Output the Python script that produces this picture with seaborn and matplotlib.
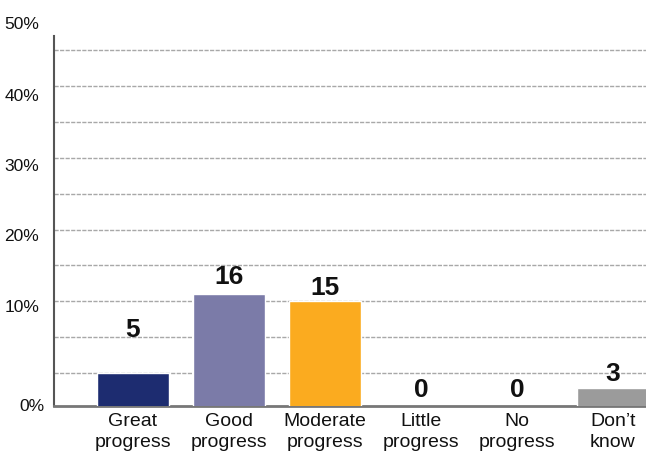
import matplotlib
matplotlib.use("Agg")
import matplotlib.pyplot as plt
import matplotlib.transforms as mtransforms
import seaborn as sns
import pandas as pd

# ---- data ----
categories = ["Great\nprogress", "Good\nprogress", "Moderate\nprogress",
              "Little\nprogress", "No\nprogress", "Don\u2019t\nknow"]
counts = [5, 16, 15, 0, 0, 3]
colors = ["#1d2c70", "#7b7ba8", "#fbab1f", "#999999", "#999999", "#9b9b9b"]
ytick_labels = ["0%", "10%", "20%", "30%", "40%", "50%"]

# ---- layout (not data) ----
ytick_label_pos = [0.3, 14.2, 24.0, 33.8, 43.5, 53.5]
ytick_label_x = [45, 39, 39, 39, 39, 39]          # right edge in pixels
value_label_offset_px = [43, 17, 13, 19, 19, 14]  # label centre above bar top

sns.set_theme(style="white")
plt.rcParams["font.family"] = ["Liberation Sans", "DejaVu Sans"]

W, H = 646, 455
fig = plt.figure(figsize=(W / 100, H / 100), dpi=100)
left_px, right_px, bottom_px, top_px = 53.5, 646, 405.7, 35.7
ax = fig.add_axes([left_px / W, (H - bottom_px) / H,
                   (right_px - left_px) / W, (bottom_px - top_px) / H])

df = pd.DataFrame({"category": categories, "count": counts})
sns.barplot(data=df, x="category", y="count", hue="category",
            palette=colors, legend=False, width=0.75, saturation=1,
            ax=ax, zorder=3)

ax.set_xlim(-0.828, 5.344)
ax.set_ylim(0.47, 52.0)

# gridlines every 5 units
ax.set_yticks(range(5, 51, 5))
ax.set_yticklabels([])
ax.tick_params(axis="y", length=0)
ax.yaxis.grid(True, color="#a8a8a8", linestyle=(0, (3, 1)), linewidth=1.0, zorder=0)
ax.xaxis.grid(False)
ax.set_axisbelow(True)

# spines
for s in ["top", "right"]:
    ax.spines[s].set_visible(False)
ax.spines["left"].set_color("#555555")
ax.spines["left"].set_linewidth(1.5)
ax.spines["bottom"].set_color("#777777")
ax.spines["bottom"].set_linewidth(2.0)

ax.set_xlabel("")
ax.set_ylabel("")
ax.tick_params(axis="x", length=0, pad=5.5, labelsize=14, colors="#111111")
for t in ax.get_xticklabels():
    t.set_linespacing(1.25)

# y tick labels as text (positions are uneven in the reference)
trans = mtransforms.blended_transform_factory(fig.transFigure, ax.transData)
for lab, yp, xp in zip(ytick_labels, ytick_label_pos, ytick_label_x):
    fig.text(xp / W, yp, lab, transform=trans, ha="right", va="center",
             fontsize=12.5, color="#111111")

# value labels
for i, (c, off) in enumerate(zip(counts, value_label_offset_px)):
    ax.annotate(str(c), (i, c), xytext=(0, off * 72 / 100),
                textcoords="offset points", ha="center", va="center",
                fontsize=19, fontweight="bold", color="#111111",
                annotation_clip=False)

fig.savefig("out.png", dpi=100)
